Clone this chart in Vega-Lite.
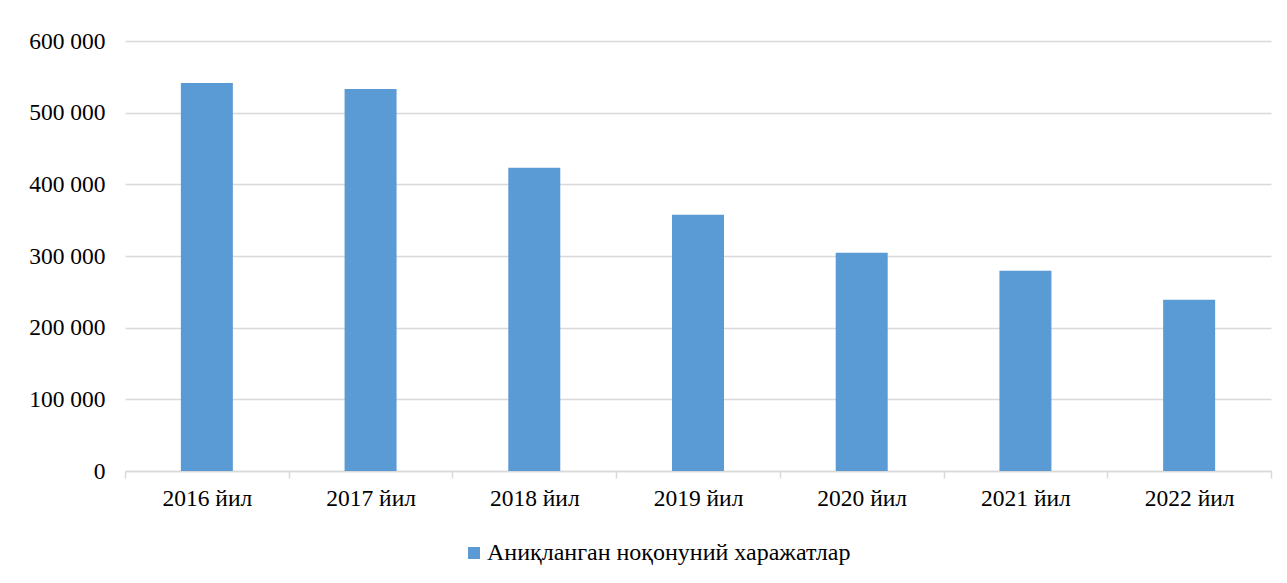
{
  "$schema": "https://vega.github.io/schema/vega-lite/v6.json",
  "width": 1146,
  "height": 430,
  "autosize": {"type": "none"},
  "padding": {"left": 125, "top": 41, "right": 16, "bottom": 112},
  "background": "white",
  "data": {"values": [
    {"year": "2016 йил", "value": 541500, "series": "Аниқланган ноқонуний харажатлар"},
    {"year": "2017 йил", "value": 533000, "series": "Аниқланган ноқонуний харажатлар"},
    {"year": "2018 йил", "value": 423000, "series": "Аниқланган ноқонуний харажатлар"},
    {"year": "2019 йил", "value": 357500, "series": "Аниқланган ноқонуний харажатлар"},
    {"year": "2020 йил", "value": 304500, "series": "Аниқланган ноқонуний харажатлар"},
    {"year": "2021 йил", "value": 279500, "series": "Аниқланган ноқонуний харажатлар"},
    {"year": "2022 йил", "value": 239000, "series": "Аниқланган ноқонуний харажатлар"}
  ]},
  "mark": {"type": "bar", "size": 52},
  "encoding": {
    "x": {
      "field": "year", "type": "nominal", "sort": null,
      "scale": {"paddingInner": 0, "paddingOuter": 0},
      "axis": {
        "title": null, "labelAngle": 0, "tickBand": "extent",
        "domainColor": "#d9d9d9", "domainWidth": 1.5, "tickColor": "#d9d9d9", "tickWidth": 1.5, "tickSize": 7,
        "labelFont": "Liberation Serif", "labelFontSize": 23.5, "labelColor": "#000000", "labelPadding": 8
      }
    },
    "y": {
      "field": "value", "type": "quantitative",
      "scale": {"domain": [0, 600000]},
      "axis": {
        "title": null, "values": [0, 100000, 200000, 300000, 400000, 500000, 600000],
        "labelExpr": "replace(format(datum.value, ','), ',', ' ')",
        "domain": false, "ticks": false, "gridColor": "#d9d9d9", "gridWidth": 1.5,
        "labelFont": "Liberation Serif", "labelFontSize": 23.5, "labelColor": "#000000", "labelPadding": 20
      }
    },
    "color": {
      "field": "series", "type": "nominal",
      "scale": {"range": ["#5B9BD5"]},
      "legend": {
        "title": null, "orient": "none", "legendX": 337, "legendY": 500,
        "symbolType": "square", "symbolSize": 144, "symbolStrokeWidth": 0,
        "labelFont": "Liberation Serif", "labelFontSize": 24, "labelColor": "#000000", "labelOffset": 1, "labelLimit": 800
      }
    }
  },
  "config": {"view": {"stroke": null}}
}
